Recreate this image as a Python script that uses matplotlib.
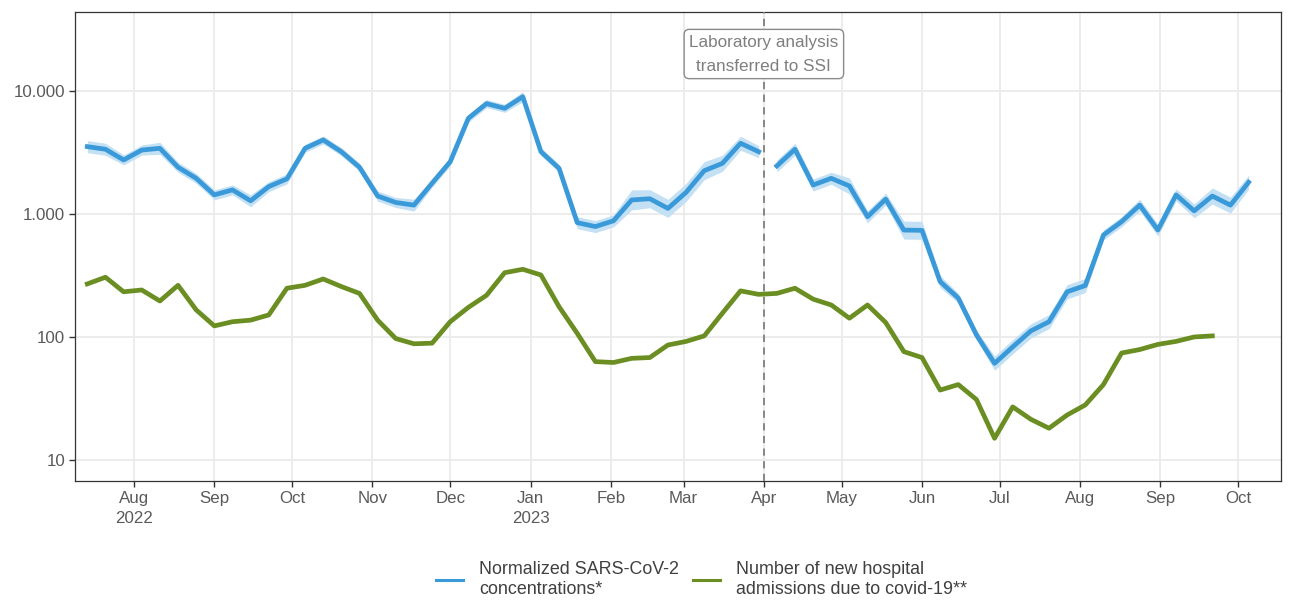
import matplotlib
matplotlib.use("Agg")
import matplotlib.pyplot as plt
import matplotlib.dates as mdates
from matplotlib.ticker import FixedLocator, FixedFormatter, NullLocator
import pandas as pd
import numpy as np

plt.rcParams['font.family'] = ['Liberation Sans', 'DejaVu Sans']

# ---- data ----
start_date = "2022-07-14"   # weekly (Thursdays)
n_weeks = 65

# Normalized SARS-CoV-2 concentrations, segment before lab change (weeks 0..37)
conc_seg1 = [3530, 3360, 2750, 3310, 3420, 2400, 1950, 1430, 1570, 1280,
             1670, 1930, 3420, 4000, 3210, 2400, 1400, 1240, 1180, 1780,
             2660, 6000, 7900, 7230, 8990, 3210, 2350, 850, 790, 880,
             1300, 1330, 1110, 1500, 2250, 2580, 3760, 3210]
conc_seg1_hi = [3950, 3760, 3020, 3634, 3827, 2635, 2141, 1570, 1724, 1432,
                1834, 2119, 3687, 4312, 3460, 2587, 1537, 1362, 1320, 1919,
                2867, 6468, 8516, 7794, 9871, 3460, 2533, 951, 884, 985,
                1568, 1575, 1314, 1776, 2664, 2998, 4286, 3592]
conc_seg1_lo = [3155, 3003, 2505, 3015, 3056, 2186, 1776, 1302, 1430, 1144,
                1521, 1758, 3173, 3711, 2978, 2226, 1275, 1129, 1055, 1651,
                2468, 5566, 7328, 6707, 8188, 2978, 2180, 760, 706, 786,
                1078, 1123, 938, 1267, 1900, 2220, 3298, 2869]

# segment after lab change (weeks 38..64)
conc_seg2 = [2460, 3360, 1720, 1950, 1690, 950, 1320, 740, 736, 282,
             207, 104, 61, 83, 112, 133, 233, 262, 675, 866,
             1180, 741, 1430, 1060, 1400, 1180, 1810]
conc_seg2_hi = [2753, 3760, 1925, 2182, 1964, 1063, 1477, 876, 871, 316,
                227, 114, 70, 95, 128, 152, 266, 299, 741, 951,
                1320, 829, 1600, 1208, 1627, 1371, 2063]
conc_seg2_lo = [2198, 3003, 1537, 1743, 1454, 849, 1180, 625, 622, 252,
                189, 95, 53.5, 73, 98, 117, 204, 230, 615, 789,
                1055, 662, 1278, 930, 1205, 1016, 1588]

# New hospital admissions (weeks 0..62)
admissions = [270, 306, 233, 241, 196, 263, 166, 123, 133, 137,
              151, 249, 263, 296, 257, 226, 137, 97, 88, 89,
              133, 174, 218, 333, 355, 319, 176, 107, 63, 62,
              67, 68, 86, 92, 102, 156, 237, 222, 226, 249,
              203, 182, 142, 182, 131, 76, 68, 37, 41, 31,
              15, 27, 21.4, 18.1, 23.2, 28, 41, 74, 79, 87,
              92, 100, 102]

lab_change_date = "2023-04-01"
annotation_text = "Laboratory analysis\ntransferred to SSI"
ytick_vals = [10, 100, 1000, 10000]
ytick_labels = ["10", "100", "1.000", "10.000"]
legend_labels = ["Normalized SARS-CoV-2\nconcentrations*",
                 "Number of new hospital\nadmissions due to covid-19**"]

blue = "#3a9ad9"
band = "#c3e0f4"
green = "#6b8e23"

dates = pd.date_range(start_date, periods=n_weeks, freq="7D")
d1 = dates[:len(conc_seg1)]
d2 = dates[len(conc_seg1):len(conc_seg1) + len(conc_seg2)]
dg = dates[:len(admissions)]

fig = plt.figure(figsize=(12.95, 6.0), dpi=100)
ax = fig.add_axes([75/1295, 1-481/600, (1281-75)/1295, (481-12)/600])

ax.set_yscale("log")
ax.set_ylim(6.74, 43900)
ax.set_xlim(pd.Timestamp("2022-07-09 06:00"), pd.Timestamp("2023-10-17 12:00"))

# grid
month_ticks = pd.date_range("2022-08-01", "2023-10-01", freq="MS")
for m in month_ticks:
    ax.axvline(m, color="#ebebeb", lw=1.3, zorder=0)
for v in ytick_vals:
    ax.axhline(v, color="#ebebeb", lw=1.3, zorder=0)

# band + lines
ax.fill_between(d1, conc_seg1_lo, conc_seg1_hi, color=band, lw=0, zorder=2)
ax.fill_between(d2, conc_seg2_lo, conc_seg2_hi, color=band, lw=0, zorder=2)
ax.plot(d1, conc_seg1, color=blue, lw=3.4, zorder=3, solid_joinstyle="round")
l1, = ax.plot(d2, conc_seg2, color=blue, lw=3.4, zorder=3, solid_joinstyle="round")
l2, = ax.plot(dg, admissions, color=green, lw=3.4, zorder=3, solid_joinstyle="round")

# lab change line and annotation
ax.axvline(pd.Timestamp(lab_change_date), color="#7f7f7f", lw=1.3,
           ls=(0, (4, 3)), zorder=4)
ax.text(pd.Timestamp(lab_change_date), 10**(4 + (91-54)/123), annotation_text,
        ha="center", va="center", fontsize=12.3, color="#7f7f7f",
        linespacing=1.75, zorder=5,
        bbox=dict(boxstyle="round,pad=0.3,rounding_size=0.3", fc="white",
                  ec="#8a8a8a", lw=1.0))

# axes styling
ax.yaxis.set_major_locator(FixedLocator(ytick_vals))
ax.yaxis.set_major_formatter(FixedFormatter(ytick_labels))
ax.yaxis.set_minor_locator(NullLocator())

xlabels = []
for m in month_ticks:
    lab = m.strftime("%b")
    if m.month == 8 and m.year == 2022 or m.month == 1:
        lab += "\n" + m.strftime("%Y")
    xlabels.append(lab)
ax.xaxis.set_major_locator(FixedLocator(mdates.date2num(month_ticks)))
ax.xaxis.set_major_formatter(FixedFormatter(xlabels))
ax.xaxis.set_minor_locator(NullLocator())

ax.tick_params(axis="both", which="major", length=4, width=1.0, color="#333333",
               labelcolor="#5a5a5a", labelsize=12.2, pad=3)
for lbl in ax.get_xticklabels():
    lbl.set_verticalalignment("top")
    lbl.set_linespacing(1.4)
for s in ax.spines.values():
    s.set_color("#333333")
    s.set_linewidth(0.9)

leg = fig.legend([l1, l2], legend_labels, loc="center", ncol=2,
                 bbox_to_anchor=(0.5417, 0.034), frameon=False, fontsize=12.9,
                 handlelength=1.5, handletextpad=0.9, columnspacing=0.8,
                 labelcolor="#404040")
for t in leg.get_texts():
    t.set_linespacing(1.25)
for h in leg.legend_handles:
    h.set_linewidth(2.2)

fig.savefig("out.png", dpi=100)
